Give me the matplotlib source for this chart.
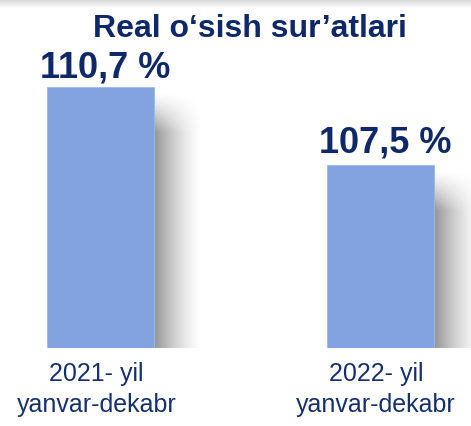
import matplotlib
matplotlib.use("Agg")
import matplotlib.pyplot as plt
from matplotlib.patches import Rectangle
import numpy as np

title = "Real o\u2018sish sur\u2019atlari"
categories = ["2021- yil\nyanvar-dekabr", "2022- yil\nyanvar-dekabr"]
values = [110.7, 107.5]
value_labels = ["110,7 %", "107,5 %"]

plt.rcParams['font.family'] = ['Liberation Sans', 'DejaVu Sans']

W, H = 471, 426
fig = plt.figure(figsize=(W / 100, H / 100), dpi=100)
fig.patch.set_facecolor('white')

# top faint band
for i in range(8):
    fig.patches.append(Rectangle((0, 1 - (i + 1) / H), 1, 1 / H, transform=fig.transFigure,
                                 facecolor='#D8D8D8', alpha=0.9 - i * 0.11, edgecolor='none'))

ax_bottom_px = 348
ax = fig.add_axes([0, (H - ax_bottom_px) / H, 1, ax_bottom_px / H])
px_x = 279.5          # pixels per category unit
px_y = 24.4           # pixels per percent
x0_px = 100.5
ax.axis('off')

bar_w = 107 / px_x
x = np.arange(len(values))
bar_color = '#82A3E0'

# soft shadows (smooth gradient images to the right of each bar)
sw_px = 50
for xi, v in zip(x, values):
    right = xi + bar_w / 2
    top_px = (v - 100) * px_y
    hpx = int(top_px)
    xs = np.linspace(0, 1, sw_px)
    fx = 0.42 * (1 - xs) ** 1.5
    ys = np.arange(hpx)[::-1]
    gy = np.clip((top_px - 6 - ys) / 40.0, 0, 1) ** 1.2
    img = np.zeros((hpx, sw_px, 4))
    img[..., 3] = gy[:, None] * fx[None, :]
    ax.imshow(img, extent=(right, right + sw_px / px_x, 100, 100 + hpx / px_y),
              aspect='auto', zorder=1, interpolation='bilinear')

ax.set_xlim(-x0_px / px_x, (W - x0_px) / px_x)
ax.set_ylim(100, 100 + ax_bottom_px / px_y)

ax.bar(x, [v - 100 for v in values], bottom=100, width=bar_w, color=bar_color,
       edgecolor='#9DB7E8', linewidth=0.6, zorder=3)

navy = '#0F2867'
offsets = [9, 13]
for xi, v, lab, off in zip(x, values, value_labels, offsets):
    ax.annotate(lab, (xi, v), xytext=(5, off), textcoords='offset pixels',
                ha='center', va='baseline', fontsize=26, fontweight='bold', color=navy, zorder=5)

fig.text(250 / W, 1 - 37 / H, title, ha='center', va='baseline', fontsize=23,
         fontweight='bold', color=navy)

for xi, cat in zip(x, categories):
    xf = (x0_px + xi * px_x) / W
    fig.text(xf - 4 / W, 1 - 362 / H, cat, ha='center', va='top', fontsize=18,
             color='#15306D', linespacing=1.38)

fig.savefig('out.png', dpi=100, facecolor='white')
